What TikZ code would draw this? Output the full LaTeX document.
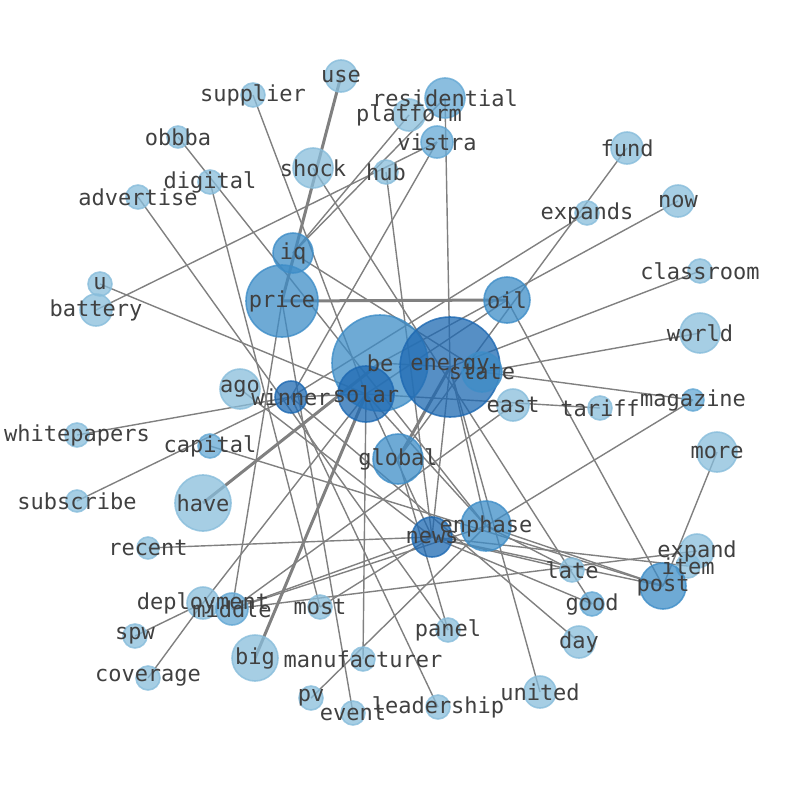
\documentclass[tikz,border=0pt]{standalone}
\usepackage{fontspec}
\newfontfamily\lblfont{DejaVu Sans Mono}
\definecolor{cL}{RGB}{136,189,219}
\definecolor{cM1}{RGB}{100,168,212}
\definecolor{cM}{RGB}{62,141,199}
\definecolor{cD}{RGB}{30,105,178}
\definecolor{edgegray}{RGB}{128,128,128}
\definecolor{txt}{RGB}{64,64,64}
\tikzset{
  nd/.style={circle, inner sep=0pt, line width=1.6pt, fill opacity=0.75, draw opacity=0.8},
  lt/.style={nd, fill=cL, draw=cL},
  m1/.style={nd, fill=cM1, draw=cM1},
  md/.style={nd, fill=cM, draw=cM},
  dk/.style={nd, fill=cD, draw=cD},
  edge/.style={draw=edgegray, line width=1.4pt},
  thick edge/.style={draw=edgegray, line width=3pt},
  lbl/.style={text=txt, inner sep=0pt, font=\lblfont\fontsize{22}{22}\selectfont}
}
\begin{document}
\begin{tikzpicture}[x=1pt,y=-1pt]
\useasboundingbox (0,0) rectangle (794,790);
% node coordinates (named)
\foreach \n/\x/\y in {use/341/76, supplier/253/95, residential/445/98, platform/409/115,
  vistra/437/142, obbba/178/137, fund/627/148, shock/313/168, hub/386/172, digital/210/182,
  advertise/138/197, now/678/201, expands/587/213, iq/293/253, classroom/700/271, u/100/284,
  price/282/301, oil/507/300, battery/96/310, world/700/333, be/380/363, energy/450/367,
  state/482/372, solar/366/394, winner/291/397, ago/240/389, east/513/405, tariff/600/408,
  magazine/693/400, whitepapers/77/435, capital/210/446, more/717/452, global/398/459,
  have/203/503, subscribe/77/501, enphase/486/526, news/432/537, recent/148/548,
  expand/697/551, late/572/570, item/688/566, post/663/586, deployment/203/603,
  middle/232/609, most/320/607, good/592/604, spw/135/636, panel/448/630, day/579/642,
  big/255/658, manufacturer/363/659, coverage/148/678, united/540/692, pv/311/698,
  event/353/713, leadership/438/707}
  {\coordinate (p-\n) at (\x,\y);}
% edges
\foreach \a/\b in {supplier/solar, residential/energy, residential/iq, platform/iq,
  vistra/battery, vistra/winner, hub/news, shock/good, obbba/enphase, digital/most,
  advertise/panel, u/solar, whitepapers/winner, subscribe/winner, capital/post,
  ago/news, recent/news, deployment/spw, deployment/coverage, deployment/solar,
  middle/price, middle/news, middle/expand, middle/enphase, most/news,
  manufacturer/solar, pv/enphase, event/price, leadership/winner, panel/global,
  united/energy, day/winner, news/good, news/late, enphase/late, news/item,
  news/post, enphase/post, oil/post, more/post, magazine/enphase, state/magazine,
  tariff/solar, east/middle, world/state, classroom/energy, now/be, expands/winner,
  fund/global, iq/state, oil/solar, be/energy, news/energy, enphase/energy,
  news/solar, enphase/solar, winner/solar}
  {\draw[edge] (p-\a) -- (p-\b);}
\foreach \a/\b in {price/oil, use/price, have/be, big/solar, global/energy}
  {\draw[thick edge] (p-\a) -- (p-\b);}
% nodes
\foreach \n/\r/\s in {use/16/lt, supplier/12/lt, residential/20/m1, platform/16/lt,
  vistra/16/m1, obbba/11/lt, fund/16/lt, shock/20/lt, hub/12/lt, digital/12/lt,
  advertise/12/lt, now/16/lt, expands/12/lt, iq/20/md, classroom/12/lt, u/12/lt,
  price/36/md, oil/23/md, battery/16/lt, world/20/lt, be/48/md, energy/50/dk,
  state/20/md, solar/28/dk, winner/16/dk, ago/20/lt, east/16/lt, tariff/12/lt,
  magazine/11/m1, whitepapers/12/lt, capital/12/m1, more/20/lt, global/25/md,
  have/28/lt, subscribe/11/lt, enphase/25/md, news/20/dk, recent/11/lt, expand/17/lt,
  late/12/lt, item/12/lt, post/23/md, deployment/16/lt, middle/16/m1, most/12/lt,
  good/12/m1, spw/12/lt, panel/12/lt, day/16/lt, big/23/lt, manufacturer/12/lt,
  coverage/12/lt, united/16/lt, pv/12/lt, event/12/lt, leadership/12/lt}
  {\node[\s, minimum size=2*\r pt] (n-\n) at (p-\n) {};}
% labels
\foreach \n in {use, supplier, residential, platform, vistra, obbba, fund, shock, hub,
  digital, advertise, now, expands, iq, classroom, u, price, oil, battery, world, be,
  energy, state, solar, winner, ago, east, tariff, magazine, whitepapers, capital, more,
  global, have, subscribe, enphase, news, recent, expand, late, item, post, deployment,
  middle, most, good, spw, panel, day, big, manufacturer, coverage, united, pv, event,
  leadership}
  {\node[lbl] (l-\n) at (n-\n.center) {\n};}
\end{tikzpicture}
\end{document}
